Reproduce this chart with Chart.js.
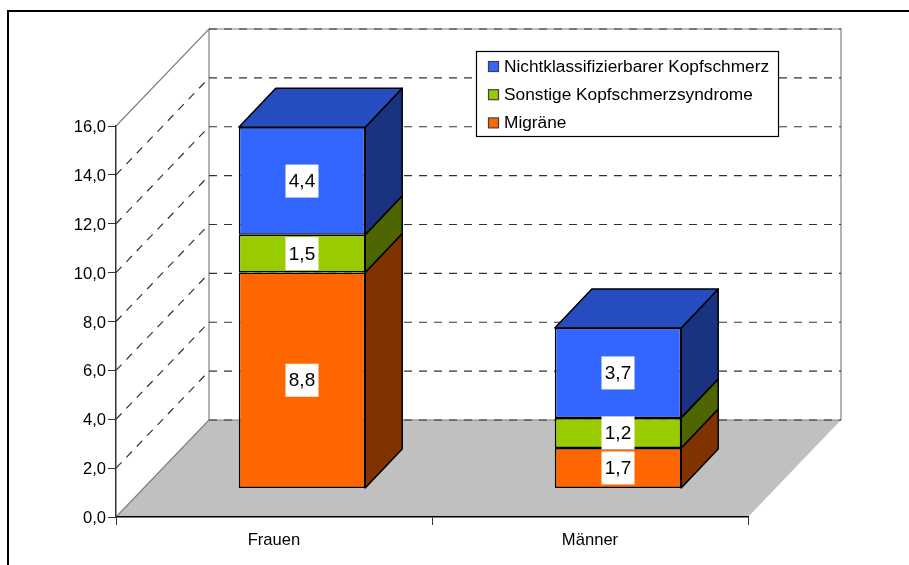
<!DOCTYPE html>
<html>
<head>
<meta charset="utf-8">
<style>
  html, body { margin: 0; padding: 0; background: #fff; }
  #wrap { width: 909px; height: 565px; }
</style>
<script src="https://cdn.jsdelivr.net/npm/chart.js@4/dist/chart.umd.js"></script>
</head>
<body>
<div id="wrap"><canvas id="myChart" width="909" height="565"></canvas></div>
<script>
const categories = ['Frauen', 'Männer'];
const migraene = [8.84, 1.66];
const sonstige = [1.54, 1.23];
const nichtklassifiziert = [4.4, 3.68];
const yTickLabels = ['0,0', '2,0', '4,0', '6,0', '8,0', '10,0', '12,0', '14,0', '16,0'];

const FONT = 'Arial, "Liberation Sans", sans-serif';

// 3d look: how far the back wall and the bars sit behind the front plane
const wall = { dx: 93, dy: -97 };
const barShift = { x: 28, y: -28.5 };
const barDepth = { x: 37, y: -39 };

const walls3d = {
    id: 'walls3d',
    afterLayout(chart) {
        // legend floats on the back wall
        const legend = chart.legend;
        legend.left = 484.35;
        legend.top = 47.35;
        legend.right = 779;
        legend.bottom = 500;
    },
    beforeDraw(chart) {
        const { ctx, chartArea: a, scales: { y } } = chart;
        ctx.save();

        // outer frame
        ctx.strokeStyle = '#000';
        ctx.lineWidth = 2;
        ctx.beginPath();
        ctx.moveTo(8, 565);
        ctx.lineTo(8, 11);
        ctx.lineTo(909, 11);
        ctx.stroke();

        // floor
        ctx.fillStyle = '#C0C0C0';
        ctx.beginPath();
        ctx.moveTo(a.left, a.bottom);
        ctx.lineTo(a.right, a.bottom);
        ctx.lineTo(a.right + wall.dx, a.bottom + wall.dy);
        ctx.lineTo(a.left + wall.dx, a.bottom + wall.dy);
        ctx.closePath();
        ctx.fill();

        // wall outline
        ctx.strokeStyle = '#808080';
        ctx.lineWidth = 1.2;
        ctx.beginPath();
        ctx.moveTo(a.left, a.bottom);
        ctx.lineTo(a.left + wall.dx, a.bottom + wall.dy);
        ctx.lineTo(a.left + wall.dx, a.top + wall.dy);
        ctx.lineTo(a.left, a.top);
        ctx.moveTo(a.left + wall.dx, a.top + wall.dy);
        ctx.lineTo(a.right + wall.dx, a.top + wall.dy);
        ctx.lineTo(a.right + wall.dx, a.bottom + wall.dy);
        ctx.moveTo(a.left + wall.dx, a.bottom + wall.dy);
        ctx.lineTo(a.right + wall.dx, a.bottom + wall.dy);
        ctx.stroke();

        // dashed grid, side wall then back wall
        ctx.strokeStyle = '#333';
        ctx.setLineDash([8, 7]);
        y.ticks.forEach((t, i) => {
            const py = y.getPixelForValue(t.value);
            if (i > 0 && i < y.ticks.length - 1) {
                ctx.beginPath();
                ctx.moveTo(a.left, py);
                ctx.lineTo(a.left + wall.dx, py + wall.dy);
                ctx.stroke();
            }
            ctx.beginPath();
            ctx.moveTo(a.left + wall.dx, py + wall.dy);
            ctx.lineTo(a.right + wall.dx, py + wall.dy);
            ctx.stroke();
        });
        ctx.setLineDash([]);

        // legend box and swatches, the legend itself adds the text on top
        ctx.fillStyle = '#fff';
        ctx.strokeStyle = '#000';
        ctx.lineWidth = 1.2;
        ctx.fillRect(476.5, 51.5, 302, 85);
        ctx.strokeRect(476.5, 51.5, 302, 85);
        chart.data.datasets.slice().reverse().forEach((ds, i) => {
            const top = 61.5 + i * 28.2;
            ctx.fillStyle = ds.backgroundColor;
            ctx.strokeStyle = '#404040';
            ctx.fillRect(488.5, top, 10, 10);
            ctx.strokeRect(488.5, top, 10, 10);
        });
        ctx.restore();
    },
    beforeDatasetsDraw(chart) {
        // side and top faces of each bar
        const { ctx } = chart;
        ctx.save();
        ctx.translate(barShift.x, barShift.y);
        ctx.strokeStyle = '#000';
        ctx.lineWidth = 1.5;
        ctx.lineJoin = 'round';
        chart.data.datasets.forEach((ds, d) => {
            chart.getDatasetMeta(d).data.forEach(bar => {
                const r = bar.x + bar.width / 2;
                ctx.fillStyle = ds.sideColor;
                ctx.beginPath();
                ctx.moveTo(r, bar.base);
                ctx.lineTo(r + barDepth.x, bar.base + barDepth.y);
                ctx.lineTo(r + barDepth.x, bar.y + barDepth.y);
                ctx.lineTo(r, bar.y);
                ctx.closePath();
                ctx.fill();
                ctx.stroke();
                if (d === chart.data.datasets.length - 1) {
                    const l = bar.x - bar.width / 2;
                    ctx.fillStyle = ds.topColor;
                    ctx.beginPath();
                    ctx.moveTo(l, bar.y);
                    ctx.lineTo(l + barDepth.x, bar.y + barDepth.y);
                    ctx.lineTo(r + barDepth.x, bar.y + barDepth.y);
                    ctx.lineTo(r, bar.y);
                    ctx.closePath();
                    ctx.fill();
                    ctx.stroke();
                }
            });
        });
        ctx.restore();
    },
    beforeDatasetDraw(chart) {
        chart.ctx.save();
        chart.ctx.translate(barShift.x, barShift.y);
    },
    afterDatasetDraw(chart) {
        chart.ctx.restore();
    },
    afterDatasetsDraw(chart) {
        // value labels on white squares
        const { ctx } = chart;
        ctx.save();
        ctx.translate(barShift.x, barShift.y);
        ctx.font = '19px ' + FONT;
        ctx.textAlign = 'center';
        ctx.textBaseline = 'middle';
        chart.data.datasets.forEach((ds, d) => {
            chart.getDatasetMeta(d).data.forEach((bar, i) => {
                const cy = (bar.y + bar.base) / 2;
                ctx.fillStyle = '#fff';
                ctx.fillRect(bar.x - 16.5, cy - 16.5, 33, 33);
                ctx.fillStyle = '#000';
                ctx.fillText(ds.data[i].toFixed(1).replace('.', ','), bar.x, cy + 1);
            });
        });
        ctx.restore();
    }
};

const ctx = document.getElementById('myChart').getContext('2d');
const myChart = new Chart(ctx, {
    type: 'bar',
    data: {
        labels: categories,
        datasets: [
            { label: 'Migräne', data: migraene, backgroundColor: '#FF6600', sideColor: '#803300' },
            { label: 'Sonstige Kopfschmerzsyndrome', data: sonstige, backgroundColor: '#99CC00', sideColor: '#4D6600' },
            { label: 'Nichtklassifizierbarer Kopfschmerz', data: nichtklassifiziert, backgroundColor: '#3366FF', sideColor: '#1A3380', topColor: '#264DBF' }
        ]
    },
    options: {
        responsive: false,
        animation: false,
        events: [],
        datasets: {
            bar: { borderColor: '#000', borderWidth: 1.5, borderSkipped: false, categoryPercentage: 0.4, barPercentage: 1 }
        },
        layout: { padding: { top: 126, right: 161 } },
        scales: {
            x: {
                stacked: true,
                afterFit: s => { s.height = 48; },
                grid: { offset: true, drawOnChartArea: false, tickLength: 8, color: '#333' },
                border: { color: '#000', width: 1.5 },
                ticks: { color: '#000', padding: 5, maxRotation: 0, font: { family: FONT, size: 16.6 } }
            },
            y: {
                stacked: true,
                min: 0,
                max: 16,
                afterFit: s => { s.width = 116; },
                grid: { drawOnChartArea: false, tickLength: 8, color: '#333' },
                border: { color: '#333', width: 1.5 },
                ticks: {
                    stepSize: 2,
                    color: '#000',
                    padding: 2,
                    labelOffset: 1.5,
                    font: { family: FONT, size: 16.6 },
                    callback: (v, i) => yTickLabels[i]
                }
            }
        },
        plugins: {
            tooltip: { enabled: false },
            legend: {
                position: 'chartArea',
                align: 'start',
                reverse: true,
                labels: {
                    color: '#000',
                    boxWidth: 0,
                    padding: 11,
                    font: { family: FONT, size: 17.3 }
                }
            }
        }
    },
    plugins: [walls3d]
});
</script>
</body>
</html>
